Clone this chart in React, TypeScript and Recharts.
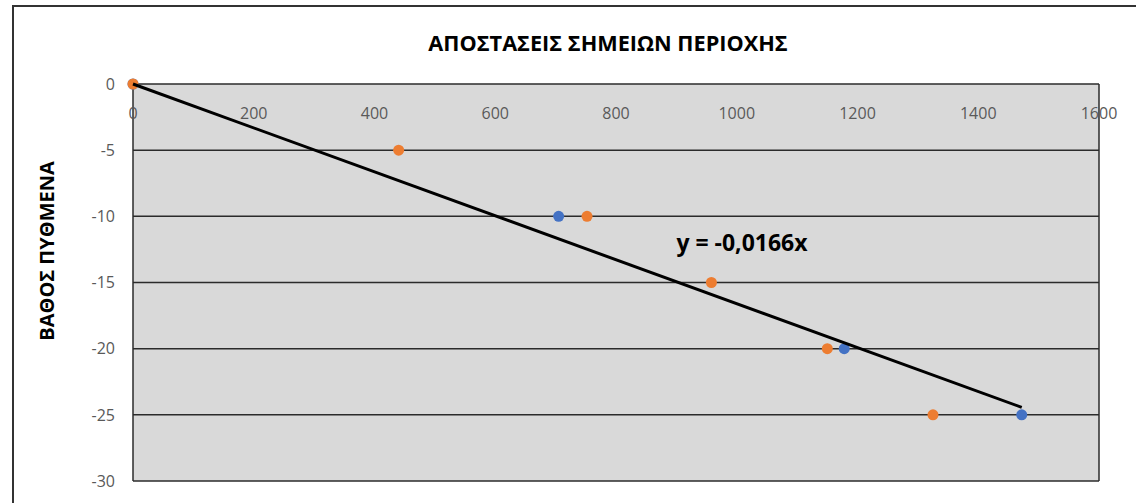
import { ScatterChart, Scatter, XAxis, YAxis, CartesianGrid, ReferenceDot } from 'recharts';

// distances (m) and bottom depth (m)
const blueX = [0, 705, 1178, 1472];
const blueY = [0, -10, -20, -25];
const orangeX = [0, 440, 752, 958, 1150, 1325];
const orangeY = [0, -5, -10, -15, -20, -25];

const xTicks = [0, 200, 400, 600, 800, 1000, 1200, 1400, 1600];
const yTicks = [0, -5, -10, -15, -20, -25, -30];

const slope = -0.0166;
const trendX = [0, 1472];

const title = 'ΑΠΟΣΤΑΣΕΙΣ ΣΗΜΕΙΩΝ ΠΕΡΙΟΧΗΣ';
const yLabel = 'ΒΑΘΟΣ ΠΥΘΜΕΝΑ';
const equation = 'y = -0,0166x';

const FONT = '"Open Sans", sans-serif';

const blueData = blueX.map((x, i) => ({ x, y: blueY[i] }));
const orangeData = orangeX.map((x, i) => ({ x, y: orangeY[i] }));
const trendData = trendX.map((x) => ({ x, y: slope * x }));

function XTick(props: any) {
  const { x, y, payload } = props;
  return (
    <text x={x} y={y + 43} textAnchor="middle" fill="#595959" fontSize={16} fontFamily={FONT}>
      {payload.value}
    </text>
  );
}

function YLabel() {
  return (
    <text
      x={46}
      y={251}
      transform="rotate(-90 46 251)"
      textAnchor="middle"
      dominantBaseline="central"
      fontSize={20}
      fontWeight="bold"
      fontFamily={FONT}
      fill="#000"
    >
      {yLabel}
    </text>
  );
}

// only the two edges of the plot area get a vertical line
const edgeLines = ({ offset }: any) => [offset.left, offset.left + offset.width];

export default function App() {
  return (
    <div style={{ position: 'fixed', left: 0, top: 0, width: 1136, height: 503, background: '#fff', overflow: 'hidden' }}>
      <div style={{ position: 'absolute', left: 12, top: 5, width: 1200, height: 600, border: '2px solid #333' }} />
      <div style={{ position: 'absolute', left: 0, top: 0 }}>
        <ScatterChart width={1136} height={503} margin={{ top: 83, right: 37, bottom: 22, left: 73 }}>
          <text x={608} y={51} textAnchor="middle" fontSize={21.7} fontWeight="bold" fontFamily={FONT} fill="#000">
            {title}
          </text>
          <CartesianGrid
            fill="#D9D9D9"
            fillOpacity={1}
            stroke="#2b2b2b"
            strokeWidth={1.5}
            verticalCoordinatesGenerator={edgeLines}
          />
          <XAxis
            type="number"
            dataKey="x"
            orientation="top"
            height={1}
            domain={[0, 1600]}
            ticks={xTicks}
            tickLine={false}
            axisLine={false}
            tick={<XTick />}
            interval={0}
          />
          <YAxis
            type="number"
            dataKey="y"
            width={60}
            domain={[-30, 0]}
            ticks={yTicks}
            tickLine={false}
            axisLine={false}
            tickMargin={12}
            interval={0}
            tick={{ fill: '#595959', fontSize: 16, fontFamily: FONT }}
            label={<YLabel />}
          />
          <Scatter data={blueData} fill="#4472C4" isAnimationActive={false} shape={(p: any) => <circle cx={p.cx} cy={p.cy} r={5.5} fill="#4472C4" />} />
          <Scatter data={orangeData} fill="#ED7D31" isAnimationActive={false} shape={(p: any) => <circle cx={p.cx} cy={p.cy} r={5.5} fill="#ED7D31" />} />
          <Scatter
            data={trendData}
            isAnimationActive={false}
            line={{ stroke: '#000', strokeWidth: 3 }}
            shape={() => <g />}
          />
          <ReferenceDot
            x={900}
            y={-12}
            r={0}
            fill="none"
            stroke="none"
            label={{ value: equation, position: 'right', offset: 0, fontSize: 23, fontWeight: 'bold', fontFamily: FONT, fill: '#000' }}
          />
        </ScatterChart>
      </div>
    </div>
  );
}
